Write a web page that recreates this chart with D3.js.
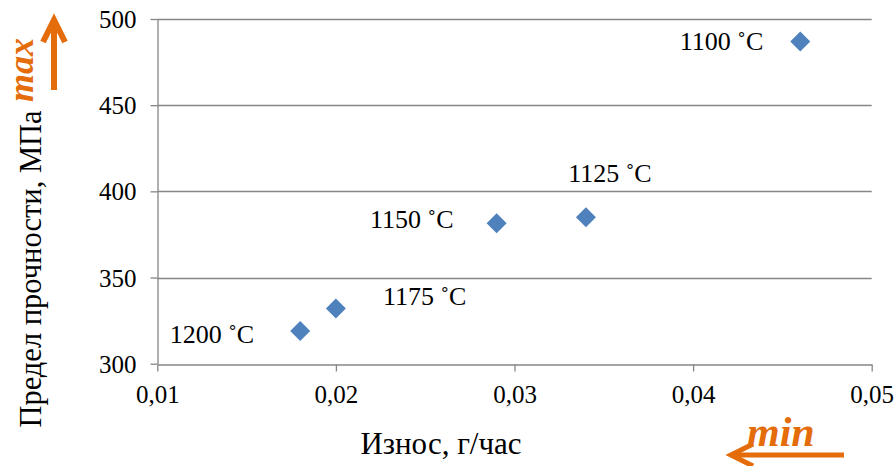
<!DOCTYPE html>
<html>
<head>
<meta charset="utf-8">
<script src="https://cdn.jsdelivr.net/npm/d3@7"></script>
<style>
  html, body { margin: 0; padding: 0; background: #fff; }
  svg { display: block; }
  svg text { font-family: "Liberation Serif", Tinos, "Times New Roman", Times, "DejaVu Serif", serif !important; }
</style>
</head>
<body>
<svg id="chart" width="896" height="466"></svg>
<script>
// ---- data ----
const temperatures = ["1100 ˚C", "1125 ˚C", "1150 ˚C", "1175 ˚C", "1200 ˚C"];
const wear = [0.046, 0.034, 0.029, 0.020, 0.018];        // Износ, г/час
const strength = [487, 385, 381.5, 332, 319];            // Предел прочности, МПа
const xTicks = [0.01, 0.02, 0.03, 0.04, 0.05];
const yTicks = [300, 350, 400, 450, 500];
const xTitle = "Износ, г/час";
const yTitle = "Предел прочности, МПа";

// ---- layout (label placement relative to the marker) ----
const labelDx = [-37, 24, -43, 47, -46];
const labelDy = [9, -35, 5, -4, 12];
const labelAnchor = ["end", "middle", "end", "start", "end"];

const W = 896, H = 466;
const margin = { left: 157.3, right: W - 871.7, top: 19, bottom: H - 363.7 };
const svg = d3.select("#chart");

const x = d3.scaleLinear().domain([0.01, 0.05]).range([margin.left, W - margin.right]);
const y = d3.scaleLinear().domain([300, 500]).range([H - margin.bottom, margin.top]);

const axisColor = "#868686";
const orange = "#E46C0A";

// gridlines
svg.append("g").selectAll("line").data(yTicks.filter(v => v !== 300)).join("line")
  .attr("x1", x(0.01)).attr("x2", x(0.05))
  .attr("y1", d => Math.round(y(d)) + 0.5).attr("y2", d => Math.round(y(d)) + 0.5)
  .attr("stroke", axisColor).attr("stroke-width", 1.3);

const fmtX = d => d3.format(".2f")(d).replace(".", ",");

// x axis
const gx = svg.append("g").attr("transform", `translate(0,${Math.round(y(300)) + 0.5})`)
  .call(d3.axisBottom(x).tickValues(xTicks).tickFormat(fmtX).tickSize(7).tickPadding(14).tickSizeOuter(0));
// y axis
const gy = svg.append("g").attr("transform", `translate(${Math.round(x(0.01)) + 0.5},0)`)
  .call(d3.axisLeft(y).tickValues(yTicks).tickSize(7).tickPadding(14).tickSizeOuter(0));

[gx, gy].forEach(g => {
  g.attr("font-family", null);
  g.selectAll("path.domain").attr("stroke", axisColor).attr("stroke-width", 1.3);
  g.selectAll(".tick line").attr("stroke", axisColor).attr("stroke-width", 1.3);
  g.selectAll(".tick text").attr("fill", "#000").style("font-size", "25px");
});
gx.selectAll(".tick text").attr("dy", "0.71em");
gy.selectAll(".tick text").attr("dy", "0.34em");

// markers
const pts = wear.map((w, i) => ({ w, s: strength[i], t: temperatures[i], i }));
svg.append("g").selectAll("path").data(pts).join("path")
  .attr("d", d3.symbol(d3.symbolSquare, 200))
  .attr("transform", d => `translate(${x(d.w)},${y(d.s)}) rotate(45)`)
  .attr("fill", "#4F81BD");

// data labels
svg.append("g").selectAll("text").data(pts).join("text")
  .attr("x", d => x(d.w) + labelDx[d.i])
  .attr("y", d => y(d.s) + labelDy[d.i])
  .attr("text-anchor", d => labelAnchor[d.i])
  .style("font-size", "26px").attr("fill", "#000")
  .text(d => d.t);

// axis titles
svg.append("text").attr("x", 441).attr("y", 454)
  .attr("text-anchor", "middle").style("font-size", "31px").text(xTitle);
svg.append("text").attr("transform", "translate(41,269) rotate(-90)")
  .attr("text-anchor", "middle").style("font-size", "30.5px").text(yTitle);

// orange annotations
svg.append("text").attr("transform", "translate(33,102) rotate(-90)")
  .attr("fill", orange).style("font-size", "36px").style("font-weight", "bold").style("font-style", "italic")
  .text("max");
svg.append("text").attr("x", 747).attr("y", 446)
  .attr("fill", orange).style("font-size", "42px").style("font-weight", "bold").style("font-style", "italic")
  .text("min");

const arrows = svg.append("g").attr("stroke", orange).attr("stroke-width", 6).attr("fill", "none");
// up arrow
arrows.append("line").attr("x1", 54).attr("y1", 90).attr("x2", 54).attr("y2", 21);
arrows.append("polyline").attr("points", "43,42 54,20 65,42").attr("stroke-linejoin", "miter");
// left arrow
arrows.append("line").attr("x1", 844).attr("y1", 455).attr("x2", 733).attr("y2", 455).attr("stroke-width", 5);
arrows.append("polyline").attr("points", "753,444 731,455 753,466").attr("stroke-width", 5);
</script>
</body>
</html>
